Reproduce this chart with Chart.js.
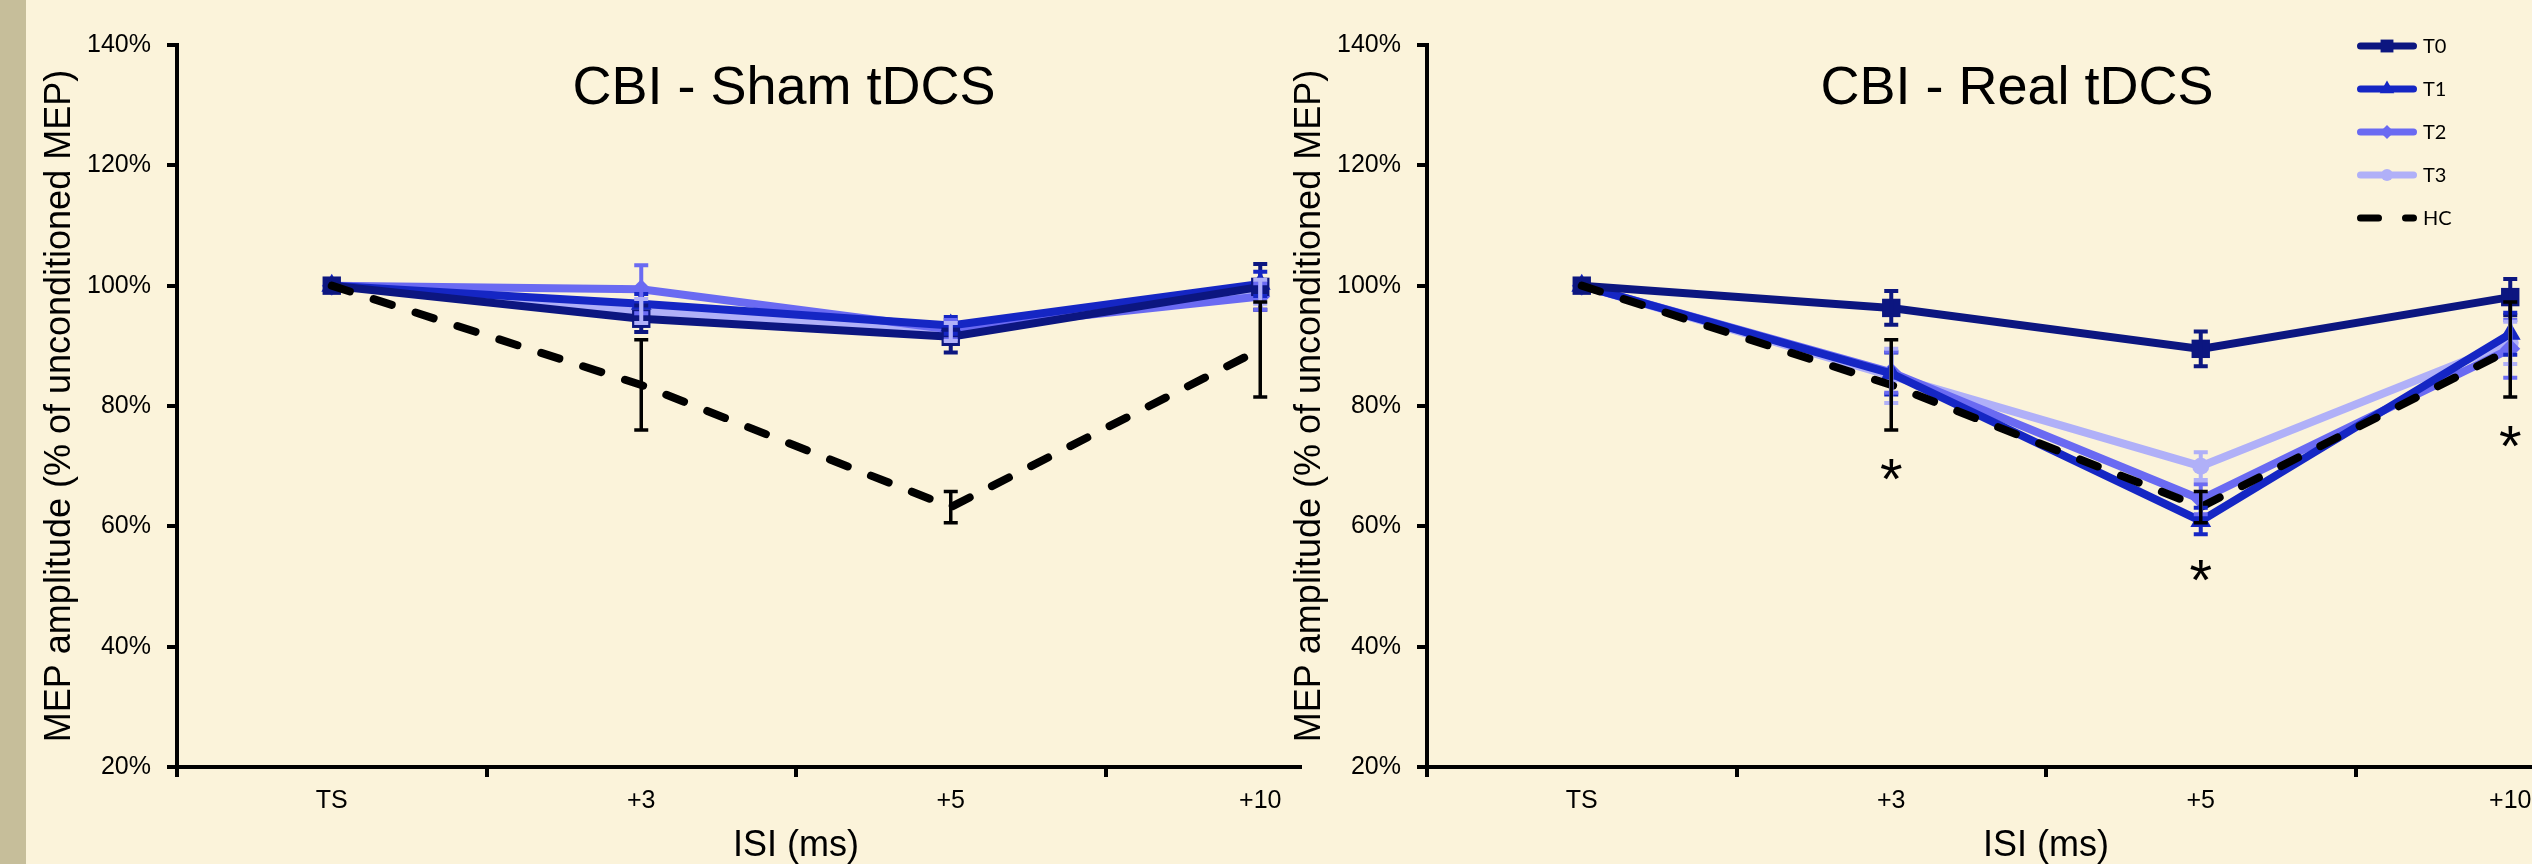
<!DOCTYPE html>
<html>
<head>
<meta charset="utf-8">
<script src="https://cdn.jsdelivr.net/npm/chart.js@4.4.1/dist/chart.umd.min.js"></script>
<style>
  html, body { margin: 0; padding: 0; }
  body { width: 2532px; height: 864px; background: #fbf3da; position: relative; overflow: hidden; }
  #strip { position: absolute; left: 0; top: 0; width: 26px; height: 864px; background: #c6be9a; }
  .panel { position: absolute; top: 0; height: 864px; overflow: hidden; }
  .panel canvas { position: absolute; left: 0; top: 0; }
</style>
</head>
<body>
<div id="strip"></div>
<div class="panel" style="left:26px;width:1276px"><canvas id="sham" width="1420" height="864"></canvas></div>
<div class="panel" style="left:1276px;width:1256px"><canvas id="real" width="1420" height="864"></canvas></div>
<script>
// ISI categories (x axis)
const categories = ['TS', '+3', '+5', '+10'];
const yTicks = [20, 40, 60, 80, 100, 120, 140];

// Sham tDCS: means and SEM (% of unconditioned MEP)
const shamT0 = [100, 94.5, 91.5, 99.8];
const shamT0Err = [0, 2.2, 2.6, 3.8];
const shamT1 = [100, 97.0, 93.4, 100.3];
const shamT1Err = [0, 1.6, 1.4, 2.0];
const shamT2 = [100, 99.4, 92.7, 98.2];
const shamT2Err = [0, 4.0, 1.6, 2.2];
const shamT3 = [100, 95.8, 92.3, 99.0];
const shamT3Err = [0, 2.0, 1.5, 2.0];

// Real tDCS
const realT0 = [100, 96.3, 89.5, 98.1];
const realT0Err = [0, 2.8, 2.9, 3.0];
const realT1 = [100, 85.4, 60.9, 92.0];
const realT1Err = [0, 3.5, 2.2, 3.5];
const realT2 = [100, 85.6, 64.5, 89.5];
const realT2Err = [0, 3.4, 2.5, 4.8];
const realT3 = [100, 85.0, 70.0, 90.5];
const realT3Err = [0, 4.5, 2.3, 3.5];

// healthy controls (same in both panels)
const hcValues = [100, 83.5, 63.2, 89.4];
const hcErr = [0, 7.5, 2.6, 7.9];

// significance stars in the real panel (y position in %)
const realStars = [null, 69.5, 52.7, 74.9];

const FONT = '"Liberation Sans", Arial, sans-serif';
Chart.defaults.font.family = FONT;
Chart.defaults.color = '#000';

const colors = { T0: '#0c1680', T1: '#1526c4', T2: '#6a6af2', T3: '#b0b0f8', HC: '#000000' };

function makeDatasets(t0, e0, t1, e1, t2, e2, t3, e3) {
    const base = { borderWidth: 8, tension: 0, pointBorderWidth: 0, errorWidth: 4 };
    return [
        Object.assign({}, base, { label: 'T0', data: t0, errors: e0, borderColor: colors.T0, backgroundColor: colors.T0,
            pointStyle: 'rect', pointRadius: 13, order: 1 }),
        Object.assign({}, base, { label: 'T1', data: t1, errors: e1, borderColor: colors.T1, backgroundColor: colors.T1,
            pointStyle: 'triangle', pointRadius: 12, order: 2 }),
        Object.assign({}, base, { label: 'T2', data: t2, errors: e2, borderColor: colors.T2, backgroundColor: colors.T2,
            pointStyle: 'rectRot', pointRadius: 10, order: 3 }),
        Object.assign({}, base, { label: 'T3', data: t3, errors: e3, borderColor: colors.T3, backgroundColor: colors.T3,
            pointStyle: 'circle', pointRadius: 8.5, order: 4 }),
        { label: 'HC', data: hcValues, errors: hcErr, borderColor: colors.HC, backgroundColor: colors.HC,
            borderWidth: 8, borderDash: [19, 25], borderCapStyle: 'round', pointRadius: 0, errorWidth: 3.5, order: 0 }
    ];
}

// vertical error bars with caps
const errorBars = {
    id: 'errorBars',
    afterDatasetsDraw(chart) {
        const ctx = chart.ctx, y = chart.scales.y;
        chart.data.datasets.forEach((ds, i) => {
            if (!ds.errors) return;
            const meta = chart.getDatasetMeta(i);
            ctx.save();
            ctx.strokeStyle = ds.borderColor;
            ctx.lineWidth = ds.errorWidth;
            meta.data.forEach((pt, j) => {
                const e = ds.errors[j];
                if (!e) return;
                const top = y.getPixelForValue(ds.data[j] + e);
                const bot = y.getPixelForValue(ds.data[j] - e);
                ctx.beginPath();
                ctx.moveTo(pt.x, top); ctx.lineTo(pt.x, bot);
                ctx.moveTo(pt.x - 7, top); ctx.lineTo(pt.x + 7, top);
                ctx.moveTo(pt.x - 7, bot); ctx.lineTo(pt.x + 7, bot);
                ctx.stroke();
            });
            ctx.restore();
        });
    }
};

// title drawn inside the plot area
const panelTitle = {
    id: 'panelTitle',
    afterDraw(chart, args, opts) {
        if (!opts.text) return;
        const ctx = chart.ctx;
        ctx.save();
        ctx.font = '54px ' + FONT;
        ctx.fillStyle = '#000';
        ctx.textAlign = 'center';
        ctx.textBaseline = 'alphabetic';
        ctx.fillText(opts.text, chart.chartArea.left + opts.offset, 104);
        ctx.restore();
    }
};

const stars = {
    id: 'stars',
    afterDraw(chart, args, opts) {
        if (!opts.values) return;
        const ctx = chart.ctx, x = chart.scales.x, y = chart.scales.y;
        ctx.save();
        ctx.font = '58px ' + FONT;
        ctx.fillStyle = '#000';
        ctx.textAlign = 'center';
        ctx.textBaseline = 'alphabetic';
        const m = ctx.measureText('*');
        const shift = (m.actualBoundingBoxAscent - m.actualBoundingBoxDescent) / 2;
        opts.values.forEach((v, j) => {
            if (v == null) return;
            ctx.fillText('*', x.getPixelForValue(j), y.getPixelForValue(v) + shift);
        });
        ctx.restore();
    }
};

// vertical legend in the top right corner of the real panel
const sideLegend = {
    id: 'sideLegend',
    afterDraw(chart, args, opts) {
        if (!opts.display) return;
        const ctx = chart.ctx;
        const x0 = chart.chartArea.left + 930;
        ctx.save();
        chart.data.datasets.forEach((ds, i) => {
            const yy = 46 + i * 43;
            ctx.strokeStyle = ds.borderColor;
            ctx.fillStyle = ds.borderColor;
            ctx.lineWidth = 7;
            ctx.lineCap = 'round';
            ctx.setLineDash(ds.borderDash ? [18, 27] : []);
            ctx.beginPath();
            ctx.moveTo(x0 + 3.5, yy);
            ctx.lineTo(x0 + 56.5, yy);
            ctx.stroke();
            ctx.setLineDash([]);
            if (ds.pointRadius && Chart.helpers && Chart.helpers.drawPoint) {
                Chart.helpers.drawPoint(ctx, { pointStyle: ds.pointStyle, radius: ds.pointRadius * 0.7,
                    rotation: 0, borderWidth: 0 }, x0 + 30, yy);
            }
            ctx.fillStyle = '#000';
            ctx.font = '20px Lato, "Open Sans", sans-serif';
            ctx.textAlign = 'left';
            ctx.textBaseline = 'middle';
            ctx.fillText(ds.label, x0 + 66, yy + 1);
        });
        ctx.restore();
    }
};

function makeChart(id, datasets, title, titleOffset, starValues, legend) {
    const ctx = document.getElementById(id).getContext('2d');
    return new Chart(ctx, {
        type: 'line',
        data: { labels: categories, datasets: datasets },
        plugins: [errorBars, panelTitle, stars, sideLegend],
        options: {
            responsive: false,
            animation: false,
            layout: { padding: { top: 45, right: 31, left: 0, bottom: 0 } },
            plugins: {
                legend: { display: false },
                tooltip: { enabled: false },
                panelTitle: { text: title, offset: titleOffset },
                stars: { values: starValues },
                sideLegend: { display: legend }
            },
            scales: {
                x: {
                    offset: true,
                    grid: { offset: true, drawOnChartArea: false, color: '#000', lineWidth: 4, tickLength: 10 },
                    border: { color: '#000', width: 4 },
                    ticks: { font: { size: 25 }, padding: 9, maxRotation: 0 },
                    title: { display: true, text: 'ISI (ms)', font: { size: 36, lineHeight: 1 }, padding: 0 },
                    afterFit: s => { s.height = 97; }
                },
                y: {
                    min: yTicks[0],
                    max: yTicks[yTicks.length - 1],
                    afterBuildTicks: s => { s.ticks = yTicks.map(v => ({ value: v })); },
                    grid: { drawOnChartArea: false, color: '#000', lineWidth: 4, tickLength: 10 },
                    border: { color: '#000', width: 4 },
                    ticks: { font: { size: 25 }, padding: 16, callback: v => v + '%' },
                    title: { display: true, text: 'MEP amplitude (% of unconditioned MEP)',
                        font: { size: 36 }, padding: { top: 12, bottom: 0 } },
                    afterFit: s => { s.width = 151; }
                }
            }
        }
    });
}

makeChart('sham', makeDatasets(shamT0, shamT0Err, shamT1, shamT1Err, shamT2, shamT2Err, shamT3, shamT3Err),
    'CBI - Sham tDCS', 607, null, false);
makeChart('real', makeDatasets(realT0, realT0Err, realT1, realT1Err, realT2, realT2Err, realT3, realT3Err),
    'CBI - Real tDCS', 590, realStars, true);
</script>
</body>
</html>
